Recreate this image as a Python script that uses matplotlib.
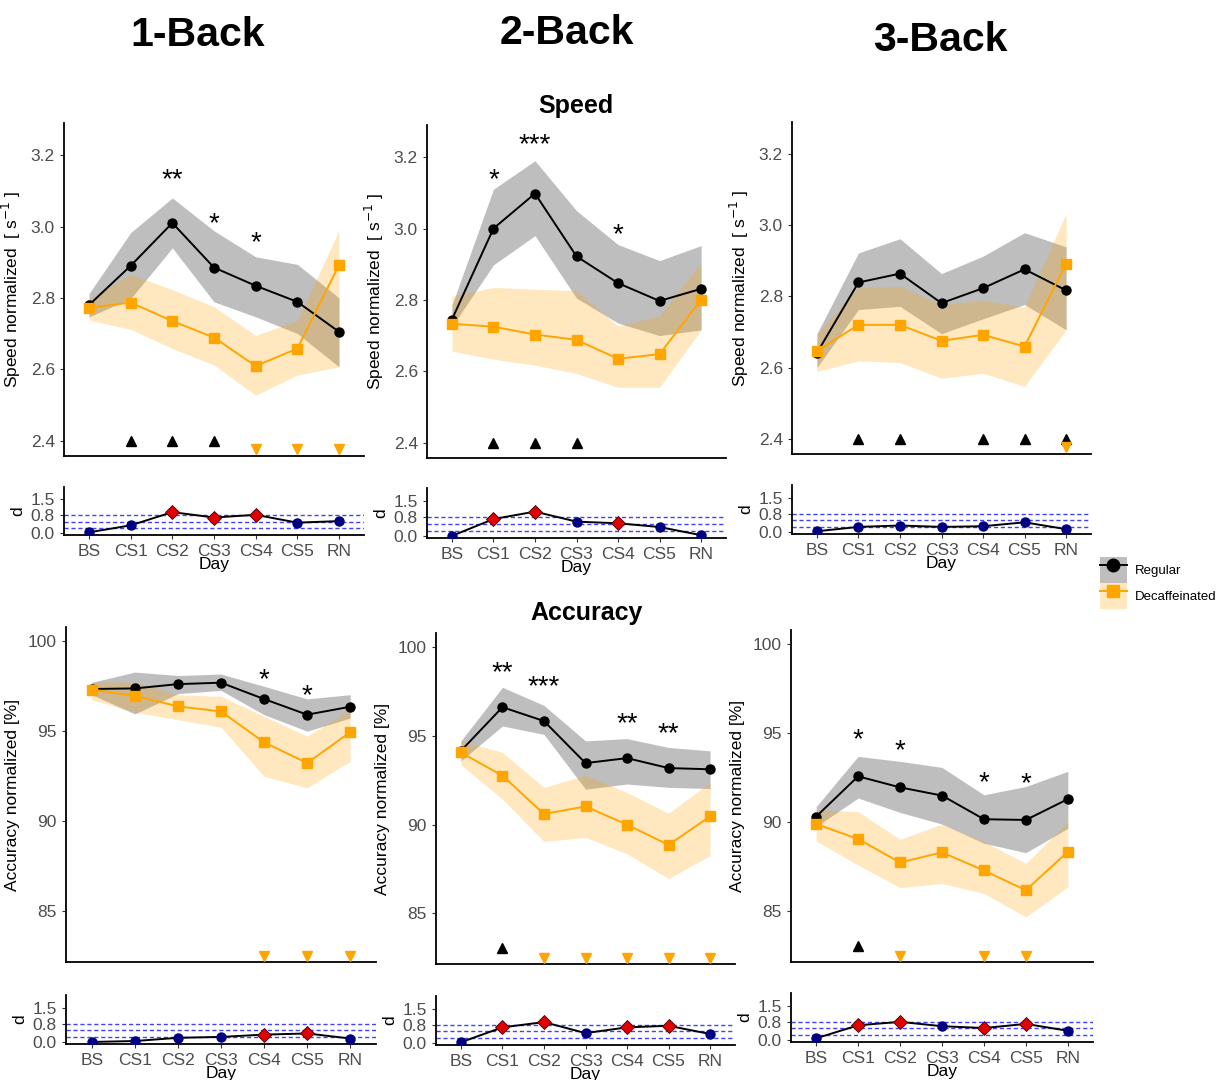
import numpy as np
import matplotlib
matplotlib.use("Agg")
import matplotlib.pyplot as plt
from matplotlib.lines import Line2D
from matplotlib.patches import Patch

plt.rcParams['font.family'] = ['Liberation Sans', 'DejaVu Sans']

W, H = 1221, 1080

days = ["BS", "CS1", "CS2", "CS3", "CS4", "CS5", "RN"]
nback_titles = ["1-Back", "2-Back", "3-Back"]

# speed (one row per n-back level)
speed_reg = [
    [2.78, 2.89, 3.01, 2.885, 2.834, 2.789, 2.705],
    [2.745, 3.0, 3.098, 2.922, 2.847, 2.797, 2.831],
    [2.641, 2.839, 2.864, 2.781, 2.823, 2.876, 2.817],
]
speed_reg_lo = [
    [2.747, 2.798, 2.94, 2.789, 2.747, 2.70, 2.607],
    [2.725, 2.898, 2.98, 2.805, 2.735, 2.70, 2.716],
    [2.60, 2.763, 2.772, 2.695, 2.737, 2.777, 2.706],
]
speed_reg_hi = [
    [2.812, 2.983, 3.08, 2.988, 2.915, 2.894, 2.80],
    [2.785, 3.11, 3.19, 3.05, 2.955, 2.91, 2.952],
    [2.695, 2.922, 2.962, 2.864, 2.913, 2.979, 2.939],
]
speed_dec = [
    [2.772, 2.787, 2.735, 2.689, 2.609, 2.658, 2.892],
    [2.733, 2.725, 2.703, 2.688, 2.635, 2.648, 2.80],
    [2.646, 2.72, 2.72, 2.675, 2.692, 2.659, 2.892],
]
speed_dec_lo = [
    [2.738, 2.712, 2.658, 2.612, 2.527, 2.584, 2.607],
    [2.656, 2.634, 2.617, 2.594, 2.555, 2.555, 2.716],
    [2.589, 2.619, 2.614, 2.57, 2.584, 2.547, 2.706],
]
speed_dec_hi = [
    [2.798, 2.866, 2.823, 2.775, 2.695, 2.736, 2.989],
    [2.81, 2.835, 2.83, 2.826, 2.727, 2.755, 2.905],
    [2.695, 2.826, 2.828, 2.778, 2.789, 2.77, 3.033],
]
speed_stars = [
    ["", "", "**", "*", "*", "", ""],
    ["", "*", "***", "", "*", "", ""],
    ["", "", "", "", "", "", ""],
]
speed_up = [[0, 1, 1, 1, 0, 0, 0], [0, 1, 1, 1, 0, 0, 0], [0, 1, 1, 0, 1, 1, 1]]
speed_down = [[0, 0, 0, 0, 1, 1, 1], [0, 0, 0, 0, 0, 0, 0], [0, 0, 0, 0, 0, 0, 1]]
speed_d = [
    [0.03, 0.34, 0.93, 0.69, 0.81, 0.46, 0.53],
    [0.0, 0.72, 1.04, 0.61, 0.54, 0.38, 0.03],
    [0.03, 0.22, 0.28, 0.22, 0.25, 0.42, 0.12],
]
speed_d_sig = [[0, 0, 1, 1, 1, 0, 0], [0, 1, 1, 0, 1, 0, 0], [0, 0, 0, 0, 0, 0, 0]]

# accuracy
acc_reg = [
    [97.35, 97.38, 97.62, 97.7, 96.79, 95.92, 96.36],
    [94.16, 96.62, 95.84, 93.47, 93.75, 93.19, 93.12],
    [90.32, 92.58, 91.96, 91.5, 90.17, 90.13, 91.3],
]
acc_reg_lo = [
    [97.03, 95.96, 97.09, 97.27, 95.92, 95.0, 95.73],
    [93.6, 95.56, 95.09, 92.0, 92.29, 92.1, 92.04],
    [89.76, 91.36, 90.55, 89.9, 88.82, 88.29, 89.66],
]
acc_reg_hi = [
    [97.72, 98.29, 98.1, 98.18, 97.5, 96.8, 97.03],
    [94.72, 97.74, 96.72, 94.72, 94.85, 94.35, 94.16],
    [90.88, 93.7, 93.42, 93.08, 91.54, 92.01, 92.86],
]
acc_dec = [
    [97.31, 96.97, 96.38, 96.1, 94.38, 93.23, 94.94],
    [94.07, 92.76, 90.6, 91.03, 90.0, 88.86, 90.47],
    [89.9, 89.06, 87.74, 88.31, 87.29, 86.18, 88.35],
]
acc_dec_lo = [
    [96.75, 96.05, 95.64, 95.22, 92.49, 91.84, 93.32],
    [93.37, 91.44, 89.05, 89.29, 88.36, 86.96, 88.26],
    [88.95, 87.59, 86.33, 86.56, 86.0, 84.68, 86.37],
]
acc_dec_hi = [
    [97.74, 97.74, 97.03, 96.94, 95.83, 94.72, 96.2],
    [94.72, 94.07, 92.1, 92.79, 91.81, 90.65, 92.37],
    [90.69, 90.6, 89.04, 89.9, 88.91, 87.69, 90.04],
]
acc_stars = [
    ["", "", "", "", "*", "*", ""],
    ["", "**", "***", "", "**", "**", ""],
    ["", "*", "*", "", "*", "*", ""],
]
acc_up = [[0, 0, 0, 0, 0, 0, 0], [0, 1, 0, 0, 0, 0, 0], [0, 1, 0, 0, 0, 0, 0]]
acc_down = [[0, 0, 0, 0, 1, 1, 1], [0, 0, 1, 1, 1, 1, 1], [0, 0, 1, 0, 1, 1, 0]]
acc_d = [
    [0.0, 0.04, 0.18, 0.22, 0.32, 0.37, 0.15],
    [0.03, 0.68, 0.91, 0.43, 0.68, 0.75, 0.39],
    [0.07, 0.64, 0.79, 0.6, 0.52, 0.7, 0.4],
]
acc_d_sig = [[0, 0, 0, 0, 1, 1, 0], [0, 1, 1, 0, 1, 1, 0], [0, 1, 1, 0, 1, 1, 0]]

d_thresholds = [0.2, 0.5, 0.8]

# panel boxes in pixels (x0, y0, x1, y1)
SPEED_BOX = [(64, 123, 364, 456), (427, 125, 726, 458), (792, 122, 1091, 454)]
SPEED_D_BOX = [(64, 487, 364, 535), (427, 488, 726, 538), (792, 485, 1091, 534)]
ACC_BOX = [(66, 627, 376, 962), (436, 633, 735, 964), (791, 630, 1093, 962)]
ACC_D_BOX = [(66, 995, 376, 1044), (436, 996, 735, 1045), (791, 993, 1093, 1042)]
# how far (px) the stars sit above the Regular mean
SPEED_STAR_GAP = [52, 57, 52]
ACC_STAR_GAP = [28, 43, 45]

GRAY_FILL = '#7f7f7f'
ORANGE = '#FFA500'
TICK_COL = '#4D4D4D'
STAR_SIZE = 20


def frac(box):
    x0, y0, x1, y1 = box
    return [x0 / W, 1 - y1 / H, (x1 - x0) / W, (y1 - y0) / H]


def classic(ax):
    for s in ['top', 'right']:
        ax.spines[s].set_visible(False)
    for s in ['left', 'bottom']:
        ax.spines[s].set_linewidth(1.3)
    ax.tick_params(colors='#333333', labelcolor=TICK_COL, labelsize=12.5, length=3, width=0.8)
    ax.set_xlim(-0.6, 6.6)


def main_panel(fig, box, reg, lo, hi, dec, dlo, dhi, stars, star_gap, up, down,
               ylim, yticks, up_y, down_y, ylabel):
    ax = fig.add_axes(frac(box))
    x = np.arange(len(days))
    ax.fill_between(x, lo, hi, color=GRAY_FILL, alpha=0.5, lw=0)
    ax.fill_between(x, dlo, dhi, color=ORANGE, alpha=0.25, lw=0)
    ax.plot(x, reg, color='black', lw=1.4, marker='o', ms=6.5, zorder=3)
    ax.plot(x, dec, color=ORANGE, lw=1.4, marker='s', ms=7, zorder=4)
    # asterisk glyph centre sits ~0.58 em above the baseline
    base_off = (star_gap - 0.58 * STAR_SIZE * 100 / 72) * 0.72
    for i, s in enumerate(stars):
        if s:
            ax.annotate(s, (i, reg[i]), xytext=(0, base_off), textcoords='offset points',
                        ha='center', va='baseline', fontsize=STAR_SIZE)
    ux = [i for i in x if up[i]]
    dx = [i for i in x if down[i]]
    ax.plot(ux, [up_y] * len(ux), ls='none', marker='^', color='black', ms=7.5, zorder=5)
    ax.plot(dx, [down_y] * len(dx), ls='none', marker='v', color=ORANGE, ms=7.5, zorder=5)
    classic(ax)
    ax.set_ylim(*ylim)
    ax.set_yticks(yticks)
    ax.set_xticks([])
    ax.set_ylabel(ylabel, fontsize=12.5, labelpad=6)
    return ax


def d_panel(fig, box, d, sig):
    ax = fig.add_axes(frac(box))
    x = np.arange(len(days))
    for t in d_thresholds:
        ax.axhline(t, color='#2020ff', ls=(0, (3, 2)), lw=1.0, alpha=0.85, zorder=1)
    ax.plot(x, d, color='black', lw=1.4, zorder=2)
    sx = [i for i in x if sig[i]]
    nx = [i for i in x if not sig[i]]
    ax.plot(nx, [d[i] for i in nx], ls='none', marker='o', color='#000080', ms=6.5, zorder=3)
    ax.plot(sx, [d[i] for i in sx], ls='none', marker='D', color='#e00000',
            mec='#400000', mew=0.6, ms=7, zorder=3)
    classic(ax)
    ax.set_ylim(-0.09, 2.05)
    ax.set_yticks([0.0, 0.8, 1.5])
    ax.set_yticklabels(['0.0', '0.8', '1.5'])
    ax.set_xticks(x)
    ax.set_xticklabels(days)
    ax.set_ylabel('d', fontsize=12.5, labelpad=4)
    ax.set_xlabel('Day', fontsize=12.5, labelpad=-1.5)
    return ax


fig = plt.figure(figsize=(W / 100, H / 100), dpi=100)

for k in range(3):
    main_panel(fig, SPEED_BOX[k], speed_reg[k], speed_reg_lo[k], speed_reg_hi[k],
               speed_dec[k], speed_dec_lo[k], speed_dec_hi[k], speed_stars[k], SPEED_STAR_GAP[k],
               speed_up[k], speed_down[k], (2.357, 3.29), [2.4, 2.6, 2.8, 3.0, 3.2],
               2.4, 2.377, r'Speed normalized  [ s$^{-1}$ ]')
    d_panel(fig, SPEED_D_BOX[k], speed_d[k], speed_d_sig[k])
    main_panel(fig, ACC_BOX[k], acc_reg[k], acc_reg_lo[k], acc_reg_hi[k],
               acc_dec[k], acc_dec_lo[k], acc_dec_hi[k], acc_stars[k], ACC_STAR_GAP[k],
               acc_up[k], acc_down[k], (82.15, 100.8), [85, 90, 95, 100],
               83.05, 82.5, 'Accuracy normalized [%]')
    d_panel(fig, ACC_D_BOX[k], acc_d[k], acc_d_sig[k])

for title, (cx, cy) in zip(nback_titles, [(198, 35), (567, 33), (940, 40)]):
    fig.text(cx / W, 1 - cy / H, title, ha='center', va='center', fontsize=29.5,
             fontweight='bold')

fig.text(576 / W, 1 - 106 / H, 'Speed', ha='center', va='center', fontsize=18, fontweight='bold')
fig.text(587 / W, 1 - 613 / H, 'Accuracy', ha='center', va='center', fontsize=18, fontweight='bold')

handles = [
    (Patch(facecolor=GRAY_FILL, alpha=0.5, lw=0),
     Line2D([], [], color='black', lw=1.4, marker='o', ms=9)),
    (Patch(facecolor=ORANGE, alpha=0.25, lw=0),
     Line2D([], [], color=ORANGE, lw=1.4, marker='s', ms=9)),
]
fig.legend(handles, ['Regular', 'Decaffeinated'], loc='upper left',
           bbox_to_anchor=(1097 / W, 1 - 554 / H), frameon=False, fontsize=9.5,
           handlelength=2.1, handleheight=2.65, handletextpad=0.6, labelspacing=0.0,
           borderaxespad=0, borderpad=0.2)

fig.savefig('out.png', dpi=100)
